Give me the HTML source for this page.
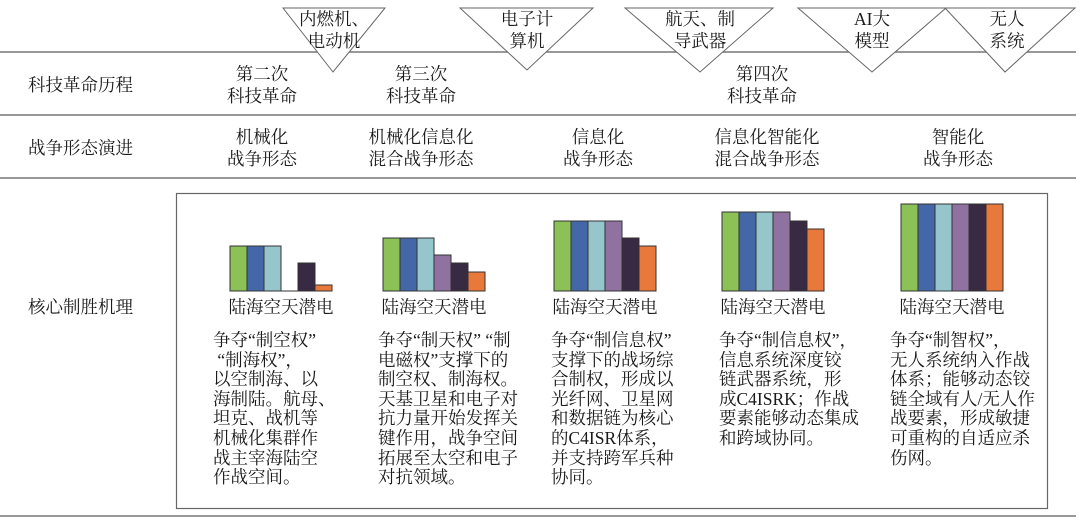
<!DOCTYPE html>
<html><head><meta charset="utf-8"><style>
body{margin:0;width:1080px;height:522px;background:#fff;position:relative;overflow:hidden;font-family:"Liberation Serif","Noto Serif CJK SC",serif;color:#1a1a1a}
.t{position:absolute;font-size:17.5px;line-height:22px;white-space:nowrap}
.c{text-align:center;transform:translateX(-50%)}
.p{position:absolute;font-size:17.5px;line-height:19.6px;white-space:nowrap}
</style></head><body>
<svg width="1080" height="522" style="position:absolute;left:0;top:0">
<g stroke="#777" stroke-width="1.5">
<line x1="0" y1="52" x2="1076" y2="52"/>
<line x1="0" y1="115" x2="1076" y2="115"/>
<line x1="0" y1="178" x2="1076" y2="178"/>
<line x1="0" y1="516" x2="1076" y2="516"/>
</g>
<rect x="176.5" y="193.5" width="871" height="315" fill="none" stroke="#666" stroke-width="1.2"/>
<g fill="#fff" stroke="#666" stroke-width="1">
<polygon points="283,8 385,8 333,72"/>
<polygon points="460,8 593,8 527,70"/>
<polygon points="625,8 773,8 700,72"/>
<polygon points="798,8 946,8 872,72"/>
<polygon points="945,8 1075,8 1005,72"/>
</g>
<g stroke="#333" stroke-width="1">
<rect x="230" y="246" width="17" height="45" fill="#8bc157"/>
<rect x="247" y="246" width="17" height="45" fill="#4467a8"/>
<rect x="264" y="246" width="17" height="45" fill="#96c5cb"/>
<line x1="281" y1="291" x2="298" y2="291"/>
<rect x="298" y="263" width="17" height="28" fill="#372a42"/>
<rect x="315" y="285" width="17" height="6" fill="#e8793a"/>
<rect x="383" y="238" width="17" height="53" fill="#8bc157"/>
<rect x="400" y="238" width="17" height="53" fill="#4467a8"/>
<rect x="417" y="238" width="17" height="53" fill="#96c5cb"/>
<rect x="434" y="255" width="17" height="36" fill="#9072a0"/>
<rect x="451" y="263" width="17" height="28" fill="#372a42"/>
<rect x="468" y="272" width="17" height="19" fill="#e8793a"/>
<rect x="554" y="221" width="17" height="70" fill="#8bc157"/>
<rect x="571" y="221" width="17" height="70" fill="#4467a8"/>
<rect x="588" y="221" width="17" height="70" fill="#96c5cb"/>
<rect x="605" y="221" width="17" height="70" fill="#9072a0"/>
<rect x="622" y="238" width="17" height="53" fill="#372a42"/>
<rect x="639" y="246" width="17" height="45" fill="#e8793a"/>
<rect x="722" y="212" width="17" height="79" fill="#8bc157"/>
<rect x="739" y="212" width="17" height="79" fill="#4467a8"/>
<rect x="756" y="212" width="17" height="79" fill="#96c5cb"/>
<rect x="773" y="212" width="17" height="79" fill="#9072a0"/>
<rect x="790" y="221" width="17" height="70" fill="#372a42"/>
<rect x="807" y="229" width="17" height="62" fill="#e8793a"/>
<rect x="901" y="204" width="17" height="87" fill="#8bc157"/>
<rect x="918" y="204" width="17" height="87" fill="#4467a8"/>
<rect x="935" y="204" width="17" height="87" fill="#96c5cb"/>
<rect x="952" y="204" width="17" height="87" fill="#9072a0"/>
<rect x="969" y="204" width="17" height="87" fill="#372a42"/>
<rect x="986" y="204" width="17" height="87" fill="#e8793a"/>
</g>
</svg>
<div class="t c" style="left:334px;top:8px">内燃机、<br>电动机</div>
<div class="t c" style="left:527px;top:8px">电子计<br>算机</div>
<div class="t c" style="left:700px;top:8px">航天、制<br>导武器</div>
<div class="t c" style="left:872px;top:8px">AI大<br>模型</div>
<div class="t c" style="left:1007px;top:8px">无人<br>系统</div>

<div class="t" style="left:28px;top:74px">科技革命历程</div>
<div class="t" style="left:28px;top:137px">战争形态演进</div>
<div class="t" style="left:28px;top:296px">核心制胜机理</div>

<div class="t c" style="left:262px;top:63px">第二次<br>科技革命</div>
<div class="t c" style="left:421px;top:63px">第三次<br>科技革命</div>
<div class="t c" style="left:762px;top:63px">第四次<br>科技革命</div>

<div class="t c" style="left:262px;top:126px">机械化<br>战争形态</div>
<div class="t c" style="left:421px;top:126px">机械化信息化<br>混合战争形态</div>
<div class="t c" style="left:598px;top:126px">信息化<br>战争形态</div>
<div class="t c" style="left:767px;top:126px">信息化智能化<br>混合战争形态</div>
<div class="t c" style="left:958px;top:126px">智能化<br>战争形态</div>

<div class="t c" style="left:281px;top:296px">陆海空天潜电</div>
<div class="t c" style="left:434px;top:296px">陆海空天潜电</div>
<div class="t c" style="left:605px;top:296px">陆海空天潜电</div>
<div class="t c" style="left:773px;top:296px">陆海空天潜电</div>
<div class="t c" style="left:952px;top:296px">陆海空天潜电</div>

<div class="p" style="left:213px;top:331px">争夺“制空权”<br>&nbsp;“制海权”，<br>以空制海、以<br>海制陆。航母、<br>坦克、战机等<br>机械化集群作<br>战主宰海陆空<br>作战空间。</div>
<div class="p" style="left:378px;top:331px">争夺“制天权” “制<br>电磁权”支撑下的<br>制空权、制海权。<br>天基卫星和电子对<br>抗力量开始发挥关<br>键作用，战争空间<br>拓展至太空和电子<br>对抗领域。</div>
<div class="p" style="left:551px;top:331px">争夺“制信息权”<br>支撑下的战场综<br>合制权，形成以<br>光纤网、卫星网<br>和数据链为核心<br>的C4ISR体系，<br>并支持跨军兵种<br>协同。</div>
<div class="p" style="left:719px;top:331px">争夺“制信息权”，<br>信息系统深度铰<br>链武器系统，形<br>成C4ISRK；作战<br>要素能够动态集成<br>和跨域协同。</div>
<div class="p" style="left:890px;top:331px">争夺“制智权”，<br>无人系统纳入作战<br>体系；能够动态铰<br>链全域有人/无人作<br>战要素，形成敏捷<br>可重构的自适应杀<br>伤网。</div>
</body></html>
